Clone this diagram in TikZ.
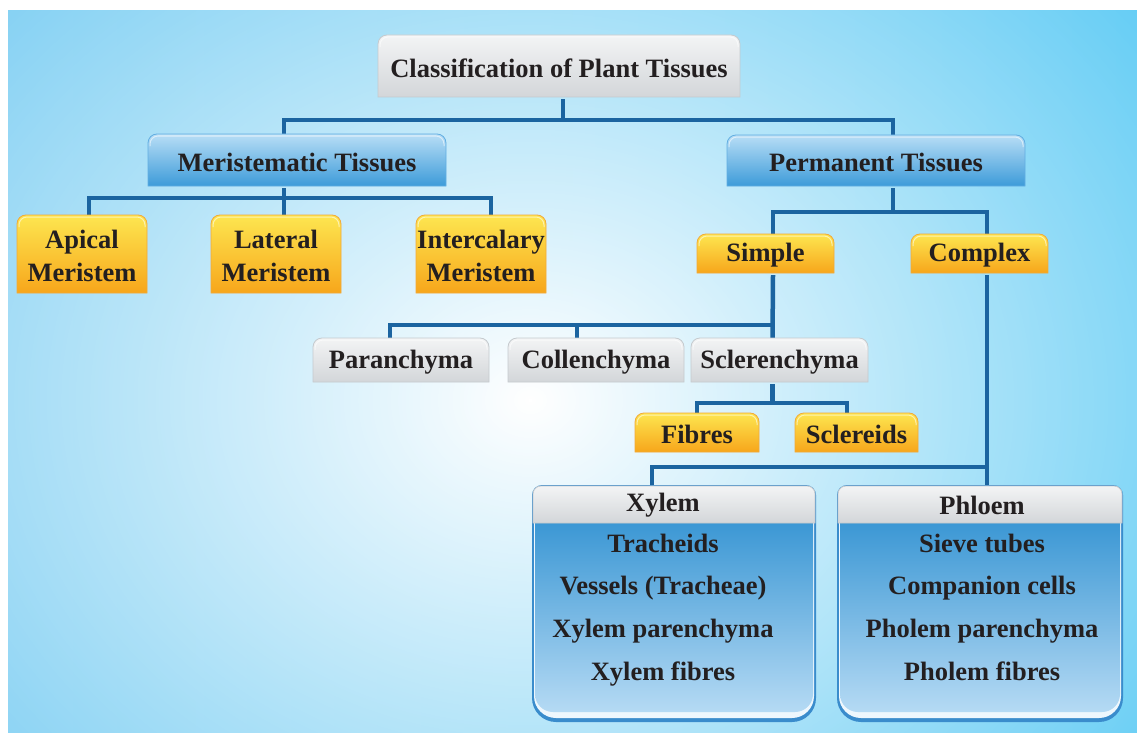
\documentclass[tikz,border=0pt]{standalone}
\usepackage{fontspec}
\setmainfont{Liberation Serif}
\usetikzlibrary{calc,fadings}
\pgfdeclarelayer{bg}
\pgfdeclarelayer{lines}
\pgfsetlayers{bg,lines,main}
\definecolor{ink}{HTML}{231F20}
\definecolor{lineblue}{HTML}{1B64A0}
\definecolor{gtop}{HTML}{F3F4F5}
\definecolor{gbot}{HTML}{D3D6D9}
\definecolor{gedge}{HTML}{C5CACE}
\definecolor{ytop}{HTML}{FDE650}
\definecolor{ybot}{HTML}{F7A61B}
\definecolor{yedge}{HTML}{F2A93A}
\definecolor{btop}{HTML}{B8DEF6}
\definecolor{bbot}{HTML}{3D9BD9}
\definecolor{bedge}{HTML}{62AEE2}
\definecolor{bgL}{HTML}{62C4F0}
\definecolor{bgR}{HTML}{48C4F3}
\definecolor{tbtop}{HTML}{3B97D4}
\definecolor{tbbot}{HTML}{B5DAF4}
\definecolor{tframe}{HTML}{3A8CCC}
\definecolor{tlight}{HTML}{EEF7FD}
\tikzfading[name=glowfade, inner color=transparent!0, outer color=transparent!100]
% box with rounded top corners: name, style, x1, y1, x2, y2, text
\newcommand\tbox[7]{%
  \path[#2] ({#3},{#6}) -- ({#3},{#4+9}) arc[start angle=180,end angle=270,radius=9]
    -- ({#5-9},{#4}) arc[start angle=270,end angle=360,radius=9] -- ({#5},{#6}) -- cycle;
  \draw[hilite] ({#3+2},{#4+12}) -- ({#3+2},{#4+10}) arc[start angle=180,end angle=270,radius=8]
    -- ({#5-10},{#4+2}) arc[start angle=270,end angle=360,radius=8] -- ({#5-2},{#4+12});
  \node[boxtext, minimum width={#5-#3}, minimum height={#6-#4}] (#1) at ({(#3+#5)/2},{(#4+#6)/2+2}) {#7};}
% table box shape: x1, y1, x2, y2
\newcommand\tableshape[4]{%
  \fill[tframe] ({#1},{#2+10}) arc[start angle=180,end angle=270,radius=10]
    -- ({#3-10},{#2}) arc[start angle=270,end angle=360,radius=10]
    -- ({#3},{#4-24}) arc[start angle=0,end angle=90,radius=24]
    -- ({#1+24},{#4}) arc[start angle=90,end angle=180,radius=24] -- cycle;
  \fill[tlight] ({#1+2},{#2+20}) -- ({#3-2},{#2+20})
    -- ({#3-2},{#4-26}) arc[start angle=0,end angle=90,radius=22]
    -- ({#1+24},{#4-4}) arc[start angle=90,end angle=180,radius=22] -- cycle;
  \shade[top color=tbtop, bottom color=tbbot] ({#1+3},{#2+37}) -- ({#3-3},{#2+37})
    -- ({#3-3},{#4-28}) arc[start angle=0,end angle=90,radius=18]
    -- ({#1+21},{#4-10}) arc[start angle=90,end angle=180,radius=18] -- cycle;
  \path[graybox] ({#1+1},{#2+38}) -- ({#1+1},{#2+9}) arc[start angle=180,end angle=270,radius=8]
    -- ({#3-9},{#2+1}) arc[start angle=270,end angle=360,radius=8] -- ({#3-1},{#2+38}) -- cycle;}
\begin{document}
\begin{tikzpicture}[x=1pt,y=-1pt,
  boxtext/.style={font=\fontsize{26.5}{33}\selectfont\bfseries, text=ink, align=center, inner sep=0pt},
  itemtext/.style={font=\fontsize{26.5}{33}\selectfont\bfseries, text=ink, anchor=base},
  graybox/.style={top color=gtop, bottom color=gbot, draw=gedge, line width=0.8pt},
  yelbox/.style={top color=ytop, bottom color=ybot, draw=yedge, line width=0.8pt},
  bluebox/.style={top color=btop, bottom color=bbot, draw=bedge, line width=0.8pt},
  hilite/.style={draw=white, opacity=0.55, line width=1pt},
  conn/.style={draw=lineblue, line width=4.5pt}]
\useasboundingbox (0,0) rectangle (1137,733);
\begin{pgfonlayer}{bg}
  \fill[white] (0,0) rectangle (1137,733);
  \shade[left color=bgL, right color=bgR] (8,11) rectangle (1137,733);
  \begin{scope}
    \clip (8,11) rectangle (1137,733);
    \fill[white, path fading=glowfade] (530,400) ellipse [x radius=920, y radius=760];
  \end{scope}
\end{pgfonlayer}

% boxes
\tbox{root}{graybox}{378}{35}{740}{97}{Classification of Plant Tissues}
\tbox{mer}{bluebox}{148}{134}{446}{186}{Meristematic Tissues}
\tbox{perm}{bluebox}{727}{135}{1025}{186}{Permanent Tissues}
\tbox{apical}{yelbox}{17}{215}{147}{293}{Apical\\Meristem}
\tbox{lateral}{yelbox}{211}{215}{341}{293}{Lateral\\Meristem}
\tbox{inter}{yelbox}{416}{215}{546}{293}{Intercalary\\Meristem}
\tbox{simple}{yelbox}{697}{234}{834}{273}{Simple}
\tbox{complex}{yelbox}{911}{234}{1048}{273}{Complex}
\tbox{paran}{graybox}{313}{338}{489}{382}{Paranchyma}
\tbox{coll}{graybox}{508}{338}{684}{382}{Collenchyma}
\tbox{scler}{graybox}{691}{338}{868}{382}{Sclerenchyma}
\tbox{fibres}{yelbox}{635}{413}{759}{452}{Fibres}
\tbox{sclereids}{yelbox}{795}{413}{918}{452}{Sclereids}

% xylem table
\tableshape{532}{485}{816}{722}
\node[boxtext, minimum width=262, minimum height=38] (xylem) at (663,505) {Xylem};
\node[itemtext] (x1) at (663,552) {Tracheids};
\node[itemtext] (x2) at (663,594) {Vessels (Tracheae)};
\node[itemtext] (x3) at (663,637) {Xylem parenchyma};
\node[itemtext] (x4) at (663,680) {Xylem fibres};

% phloem table
\tableshape{837}{485}{1123}{722}
\node[boxtext, minimum width=286, minimum height=38] (phloem) at (982,505) {Phloem};
\node[itemtext] (p1) at (982,552) {Sieve tubes};
\node[itemtext] (p2) at (982,594) {Companion cells};
\node[itemtext] (p3) at (982,637) {Pholem parenchyma};
\node[itemtext] (p4) at (982,680) {Pholem fibres};

% connectors
\begin{pgfonlayer}{lines}
  \draw[conn] ([xshift=4]root.south) -- ++(0,21) -| ([xshift=-13]mer.north);
  \draw[conn] ([xshift=4]root.south) -- ++(0,21) -| ([xshift=17]perm.north);
  \draw[conn] ([xshift=-13]mer.south) -- ++(0,10) -| ([xshift=7]apical.north);
  \draw[conn] ([xshift=-13]mer.south) -- ([xshift=8]lateral.north);
  \draw[conn] ([xshift=-13]mer.south) -- ++(0,10) -| ([xshift=10]inter.north);
  \draw[conn] ([xshift=17]perm.south) -- ++(0,24) -| ([xshift=7.5]simple.north);
  \draw[conn] ([xshift=17]perm.south) -- ++(0,24) -| ([xshift=7.5]complex.north);
  \draw[conn] ([xshift=7.5]simple.south) -- ++(0,50) -| ([xshift=-11]paran.north);
  \draw[conn] ([xshift=7.5]simple.south) -- ++(0,50) -| ([xshift=-19]coll.north);
  \draw[conn] ([xshift=7.5]simple.south) -- ([xshift=-7]scler.north);
  \draw[conn] ([xshift=-7]scler.south) -- ++(0,19) -| (fibres.north);
  \draw[conn] ([xshift=-7]scler.south) -- ++(0,19) -| ([xshift=-9.5]sclereids.north);
  \draw[conn] ([xshift=7.5]complex.south) -- ([xshift=5]phloem.north);
  \draw[conn] ([xshift=7.5]complex.south) -- ++(0,192) -| ([xshift=-11]xylem.north);
\end{pgfonlayer}
\end{tikzpicture}
\end{document}
